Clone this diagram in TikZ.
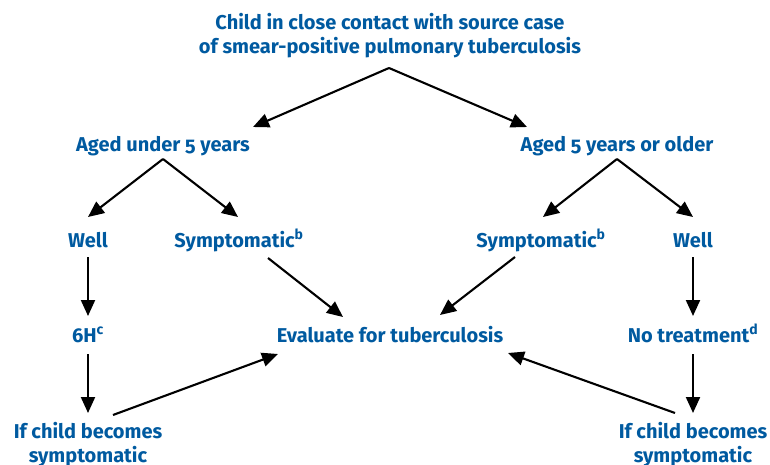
\documentclass[tikz,border=0pt]{standalone}
\usepackage{fontspec}
\setmainfont{Fira Sans}[Numbers=OldStyle]
\usetikzlibrary{arrows.meta,calc}
\definecolor{whoblue}{RGB}{0,90,160}

\begin{document}
\begin{tikzpicture}[x=1pt,y=-1pt,
    txt/.style={anchor=base,inner sep=0pt,text=whoblue,font=\fontsize{20}{24}\selectfont\bfseries,align=center},
    arr/.style={line width=2.1pt,-{Triangle[length=16pt,width=14pt]}}]
    \useasboundingbox (0,0) rectangle (770,465);

    \node[txt] (contact) at (390,54) {Child in close contact with source case\\of smear-positive pulmonary tuberculosis};
    \node[txt] (under) at (163,152) {Aged under 5 years};
    \node[txt] (older) at (617,152) {Aged 5 years or older};
    \node[txt] (wellL) at (88,247) {Well};
    \node[txt] (sympL) at (239,247) {Symptomatic\textsuperscript{b}};
    \node[txt] (sympR) at (541,247) {Symptomatic\textsuperscript{b}};
    \node[txt] (wellR) at (693,247) {Well};
    \node[txt] (sixh) at (88,342) {6H\textsuperscript{c}};
    \node[txt] (eval) at (390,342) {Evaluate for tuberculosis};
    \node[txt] (notreat) at (693,342) {No treatment\textsuperscript{d}};
    \node[txt] (ifL) at (88,462) {If child becomes\\symptomatic};
    \node[txt] (ifR) at (693,462) {If child becomes\\symptomatic};

    \coordinate (split) at ($(contact.base)+(-1,14)$);
    \draw[arr] (split) -- ($(under.base)+(90,-25)$);
    \draw[arr] (split) -- ($(older.base)+(-90,-25)$);

    \draw[arr] ($(under.base)+(0,7)$) -- ($(wellL.base)+(0,-30)$);
    \draw[arr] ($(under.base)+(0,7)$) -- ($(sympL.base)+(-1,-30)$);
    \draw[arr] ($(older.base)+(0,7)$) -- ($(sympR.base)+(2,-30)$);
    \draw[arr] ($(older.base)+(0,7)$) -- ($(wellR.base)+(0,-30)$);

    \draw[arr] ($(wellL.base)+(0,10)$) -- ($(sixh.base)+(0,-26)$);
    \draw[arr] ($(sixh.base)+(0,12)$) -- ($(ifL.base)+(0,-49)$);
    \draw[arr] ($(wellR.base)+(0,10)$) -- ($(notreat.base)+(0,-26)$);
    \draw[arr] ($(notreat.base)+(0,12)$) -- ($(ifR.base)+(0,-49)$);

    \draw[arr] ($(sympL.base)+(29,11)$) -- ($(eval.base)+(-47,-25)$);
    \draw[arr] ($(sympR.base)+(-26,10)$) -- ($(eval.base)+(50,-27)$);
    \draw[arr] ($(ifL.base)+(25,-47)$) -- ($(eval.base)+(-112,12)$);
    \draw[arr] ($(ifR.base)+(-18,-49)$) -- ($(eval.base)+(118,11)$);
\end{tikzpicture}
\end{document}
